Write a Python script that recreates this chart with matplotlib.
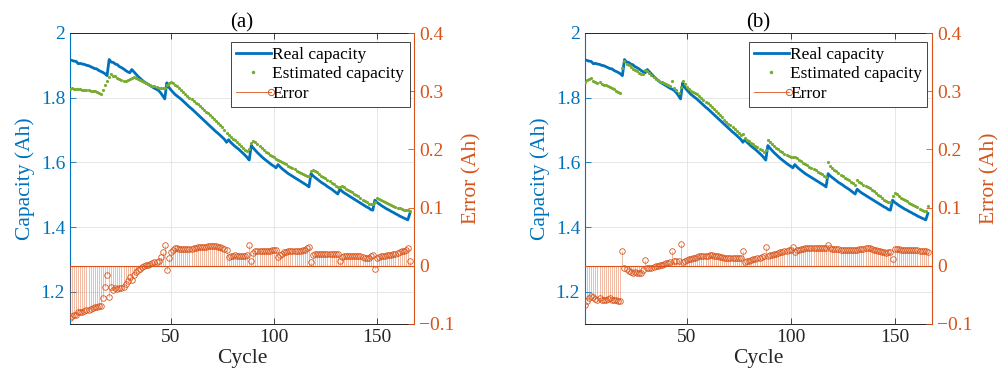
import numpy as np
import matplotlib
matplotlib.use('Agg')
import matplotlib.pyplot as plt
from matplotlib.lines import Line2D
from matplotlib.legend_handler import HandlerLine2D

plt.rcParams['font.family'] = ['Liberation Serif', 'DejaVu Serif']
plt.rcParams['xtick.direction'] = 'in'
plt.rcParams['ytick.direction'] = 'in'

BLUE = '#0072BD'
ORANGE = '#D95319'
GREEN = '#77AC30'
DARK = '#262626'

cycle = np.arange(1, 167)

# measured capacity (Ah), cycles 1..166
real = [
    1.917, 1.915, 1.913, 1.912, 1.905, 1.906, 1.904, 1.903, 1.900, 1.899,
    1.896, 1.893, 1.890, 1.889, 1.884, 1.881, 1.878, 1.874, 1.868, 1.918,
    1.910, 1.909, 1.904, 1.902, 1.896, 1.893, 1.889, 1.884, 1.880, 1.877,
    1.887, 1.880, 1.873, 1.866, 1.860, 1.854, 1.849, 1.845, 1.841, 1.837,
    1.833, 1.829, 1.826, 1.822, 1.815, 1.806, 1.796, 1.846, 1.832, 1.824,
    1.817, 1.810, 1.805, 1.800, 1.795, 1.789, 1.783, 1.777, 1.771, 1.766,
    1.760, 1.754, 1.748, 1.742, 1.736, 1.730, 1.724, 1.718, 1.712, 1.706,
    1.700, 1.694, 1.689, 1.683, 1.677, 1.671, 1.662, 1.670, 1.662, 1.656,
    1.650, 1.645, 1.640, 1.634, 1.628, 1.622, 1.615, 1.607, 1.652, 1.644,
    1.637, 1.630, 1.624, 1.618, 1.612, 1.607, 1.602, 1.597, 1.592, 1.588,
    1.583, 1.593, 1.586, 1.580, 1.575, 1.570, 1.565, 1.561, 1.557, 1.553,
    1.549, 1.545, 1.541, 1.537, 1.533, 1.529, 1.524, 1.565, 1.558, 1.553,
    1.548, 1.543, 1.538, 1.534, 1.530, 1.525, 1.521, 1.517, 1.512, 1.507,
    1.502, 1.517, 1.511, 1.506, 1.502, 1.498, 1.494, 1.490, 1.486, 1.482,
    1.478, 1.474, 1.470, 1.466, 1.462, 1.459, 1.454, 1.452, 1.483, 1.476,
    1.472, 1.467, 1.463, 1.459, 1.455, 1.452, 1.448, 1.445, 1.441, 1.438,
    1.434, 1.431, 1.428, 1.425, 1.422, 1.442]

# estimated capacity, panel (a)
est_a = [
    1.828, 1.829, 1.828, 1.827, 1.826, 1.826, 1.825, 1.825, 1.824, 1.823,
    1.822, 1.821, 1.820, 1.818, 1.815, 1.812, 1.823, 1.838, 1.852, 1.864,
    1.873, 1.868, 1.866, 1.862, 1.858, 1.855, 1.853, 1.852, 1.854, 1.858,
    1.862, 1.864, 1.862, 1.858, 1.855, 1.852, 1.849, 1.846, 1.843, 1.840,
    1.837, 1.835, 1.833, 1.831, 1.830, 1.830, 1.831, 1.838, 1.846, 1.848,
    1.845, 1.840, 1.835, 1.829, 1.824, 1.818, 1.812, 1.806, 1.800, 1.795,
    1.790, 1.785, 1.780, 1.774, 1.769, 1.763, 1.757, 1.752, 1.746, 1.740,
    1.734, 1.728, 1.722, 1.715, 1.708, 1.700, 1.690, 1.685, 1.679, 1.673,
    1.668, 1.662, 1.657, 1.651, 1.645, 1.639, 1.634, 1.642, 1.660, 1.666,
    1.662, 1.656, 1.650, 1.644, 1.638, 1.633, 1.628, 1.623, 1.619, 1.615,
    1.611, 1.608, 1.605, 1.601, 1.598, 1.594, 1.590, 1.586, 1.582, 1.578,
    1.574, 1.570, 1.567, 1.564, 1.561, 1.559, 1.557, 1.572, 1.576, 1.573,
    1.569, 1.564, 1.559, 1.555, 1.551, 1.546, 1.541, 1.537, 1.532, 1.527,
    1.523, 1.525, 1.526, 1.523, 1.519, 1.515, 1.511, 1.507, 1.503, 1.499,
    1.495, 1.490, 1.485, 1.480, 1.476, 1.472, 1.470, 1.470, 1.477, 1.490,
    1.487, 1.483, 1.479, 1.476, 1.473, 1.470, 1.467, 1.465, 1.462, 1.460,
    1.458, 1.456, 1.454, 1.453, 1.452, 1.450]

# estimated capacity, panel (b)
est_b = [
    1.850, 1.854, 1.858, 1.860, 1.852, 1.849, 1.845, 1.847, 1.842, 1.840,
    1.838, 1.836, 1.834, 1.830, 1.826, 1.822, 1.818, 1.814, 1.893, 1.914,
    1.905, 1.900, 1.894, 1.890, 1.885, 1.881, 1.876, 1.872, 1.872, 1.887,
    1.884, 1.876, 1.870, 1.864, 1.859, 1.854, 1.850, 1.847, 1.844, 1.841,
    1.838, 1.835, 1.851, 1.830, 1.823, 1.815, 1.834, 1.852, 1.841, 1.834,
    1.828, 1.822, 1.818, 1.814, 1.810, 1.805, 1.799, 1.794, 1.788, 1.783,
    1.778, 1.772, 1.765, 1.759, 1.752, 1.745, 1.739, 1.732, 1.726, 1.720,
    1.714, 1.708, 1.703, 1.697, 1.691, 1.685, 1.687, 1.676, 1.670, 1.665,
    1.660, 1.656, 1.652, 1.647, 1.642, 1.637, 1.631, 1.639, 1.668, 1.662,
    1.656, 1.650, 1.645, 1.640, 1.635, 1.631, 1.627, 1.623, 1.619, 1.616,
    1.615, 1.616, 1.613, 1.608, 1.604, 1.599, 1.595, 1.591, 1.587, 1.583,
    1.579, 1.575, 1.571, 1.567, 1.563, 1.559, 1.555, 1.600, 1.588, 1.582,
    1.577, 1.572, 1.567, 1.562, 1.558, 1.553, 1.549, 1.545, 1.540, 1.535,
    1.530, 1.545, 1.540, 1.535, 1.531, 1.528, 1.525, 1.520, 1.515, 1.510,
    1.505, 1.500, 1.495, 1.490, 1.485, 1.481, 1.477, 1.476, 1.495, 1.505,
    1.501, 1.496, 1.491, 1.487, 1.483, 1.479, 1.475, 1.472, 1.468, 1.465,
    1.461, 1.457, 1.454, 1.451, 1.448, 1.465]

cap_ticks = [1.2, 1.4, 1.6, 1.8, 2.0]
cap_labels = ['1.2', '1.4', '1.6', '1.8', '2']
err_ticks = [-0.1, 0, 0.1, 0.2, 0.3, 0.4]
err_labels = ['\u22120.1', '0', '0.1', '0.2', '0.3', '0.4']
x_ticks = [50, 100, 150]


class EndMarker(HandlerLine2D):
    # marker on the right end of the legend line, like matlab's stem entry
    def create_artists(self, *args, **kw):
        arts = super().create_artists(*args, **kw)
        for a in arts:
            a.set_markevery([2])
        return arts


def panel(fig, rect, est, title):
    ax1 = fig.add_axes(rect)
    ax2 = ax1.twinx()
    err = np.array(est) - np.array(real)

    ax1.plot(cycle, real, color=BLUE, lw=2, zorder=3)
    ax1.plot(cycle, est, '.', color=GREEN, ms=2.5, zorder=4)

    ax2.axhline(0, color=ORANGE, lw=0.8)
    ml, sl, bl = ax2.stem(cycle, err, linefmt='-', markerfmt='o', basefmt=' ')
    plt.setp(sl, color=ORANGE, lw=0.5, alpha=0.55)
    plt.setp(ml, color=ORANGE, mfc='none', ms=4, mew=0.6)

    ax1.set_xlim(1, 168)
    ax1.set_xticks(x_ticks)
    ax1.set_ylim(1.1, 2.0)
    ax1.set_yticks(cap_ticks)
    ax1.set_yticklabels(cap_labels)
    ax2.set_ylim(-0.1, 0.4)
    ax2.set_yticks(err_ticks)
    ax2.set_yticklabels(err_labels)

    ax1.grid(True, color='#e2e2e2', lw=0.6)
    ax1.set_axisbelow(True)

    ax1.tick_params(axis='y', colors=BLUE, labelsize=14, length=4, width=0.6)
    ax1.tick_params(axis='x', colors=DARK, labelsize=14, length=4, width=0.6, top=True)
    ax2.tick_params(axis='y', colors=ORANGE, labelsize=14, length=4, width=0.6)

    for s in ['top', 'bottom']:
        ax1.spines[s].set_color(DARK)
        ax1.spines[s].set_linewidth(0.7)
    ax1.spines['left'].set_color(BLUE)
    ax1.spines['right'].set_visible(False)
    ax2.spines['right'].set_color(ORANGE)
    for s in ['top', 'bottom', 'left']:
        ax2.spines[s].set_visible(False)

    ax1.set_ylabel('Capacity (Ah)', color=BLUE, fontsize=15.5, labelpad=4)
    ax2.set_ylabel('Error (Ah)', color=ORANGE, fontsize=15.5, labelpad=6)
    ax1.set_xlabel('Cycle', color=DARK, fontsize=15.5, labelpad=2)
    ax1.set_title(title, fontsize=15, pad=4)

    h_real = Line2D([], [], color=BLUE, lw=2)
    h_est = Line2D([], [], ls='none', marker='.', color=GREEN, ms=3)
    h_err = Line2D([], [], color=ORANGE, lw=0.6, marker='o', mfc='none', ms=4.5, mew=0.7)
    leg = ax2.legend([h_real, h_est, h_err],
                     ['Real capacity', 'Estimated capacity', 'Error'],
                     loc='upper right', bbox_to_anchor=(0.987, 0.97),
                     borderaxespad=0, fontsize=12.5, handlelength=2.0,
                     handletextpad=0.1, labelspacing=0.18, borderpad=0.3,
                     fancybox=False, framealpha=1, edgecolor=DARK,
                     handler_map={h_err: EndMarker()})
    leg.get_frame().set_linewidth(0.6)
    return ax1, ax2


fig = plt.figure(figsize=(10.05, 3.8), dpi=100)
panel(fig, [70 / 1005, 56 / 380, 344 / 1005, 291 / 380], est_a, '(a)')
panel(fig, [585 / 1005, 56 / 380, 347 / 1005, 291 / 380], est_b, '(b)')
fig.savefig('out.png', dpi=100)
